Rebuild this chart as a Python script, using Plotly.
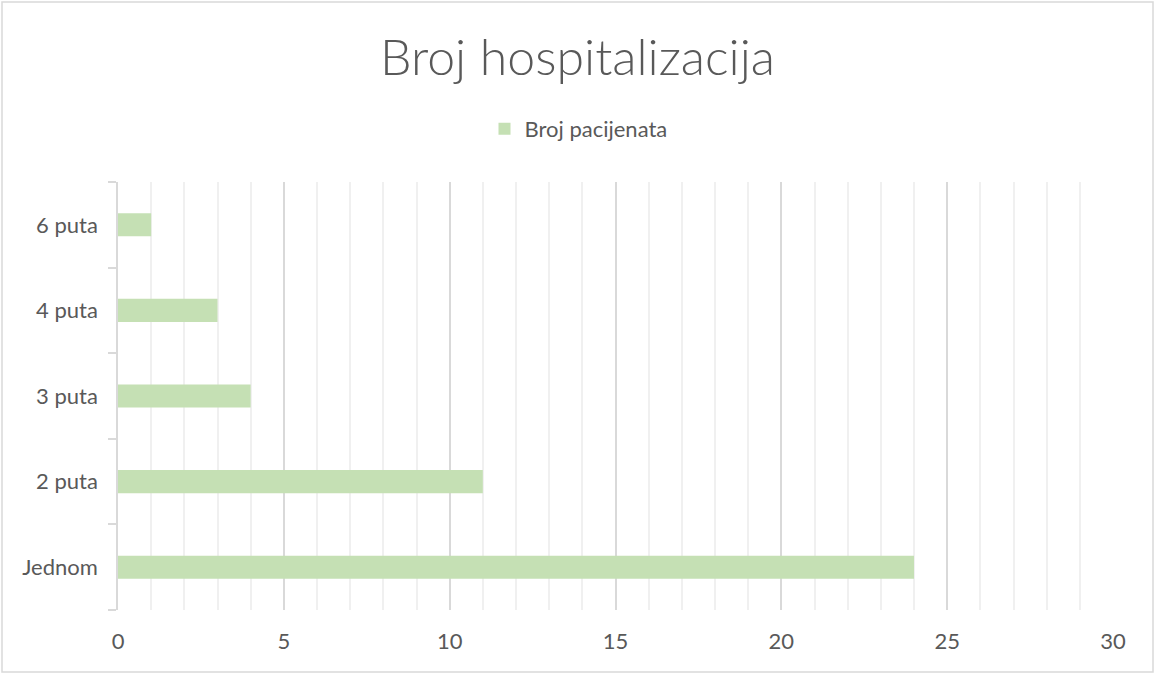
import plotly.graph_objects as go

categories = ['Jednom', '2 puta', '3 puta', '4 puta', '6 puta']
patients = [24, 11, 4, 3, 1]
x_ticks = [0, 5, 10, 15, 20, 25, 30]

W, H = 1155, 675
ml, mr, mt, mb = 118, 42, 182, 65
pw, ph = W - ml - mr, H - mt - mb

fig = go.Figure(go.Bar(
    y=categories, x=patients, orientation='h',
    name='Broj pacijenata',
    marker=dict(color='#c5e0b4', line=dict(width=0)),
))

fig.update_layout(
    width=W, height=H,
    margin=dict(l=ml, r=mr, t=mt, b=mb),
    paper_bgcolor='white', plot_bgcolor='white',
    font=dict(family='Lato, Open Sans, sans-serif', color='#595959', size=22),
    title=dict(text='Broj hospitalizacija', x=0.5, xanchor='center',
               y=1 - 57 / H, yanchor='middle',
               font=dict(size=50, color='#595959', weight=300)),
    showlegend=True,
    legend=dict(orientation='h', x=0.5 - 37 / pw, xanchor='center', y=(610 - 129) / ph,
                yanchor='middle', yref='paper', font=dict(size=22),
                itemwidth=30),
    bargap=0.73,
    xaxis=dict(range=[0, 30], tickvals=x_ticks, showgrid=True, gridcolor='#d9d9d9',
               gridwidth=1.5, zeroline=False, showline=False, ticks='',
               minor=dict(dtick=1, showgrid=True, gridcolor='#f0f0f0', gridwidth=1.5),
               ticklabelstandoff=16, automargin=False),
    yaxis=dict(showline=True, linecolor='#d9d9d9', linewidth=1.5, ticks='outside',
               tickson='boundaries', ticklen=8, tickcolor='#d9d9d9', tickwidth=1.5,
               showgrid=False, ticklabelstandoff=14, automargin=False),
)

fig.add_shape(type='rect', xref='paper', yref='paper',
              x0=(2 - ml) / pw, x1=(W - 2 - ml) / pw,
              y0=-(H - 3 - mt - ph) / ph, y1=(H - mb - 2) / ph,
              line=dict(color='#d9d9d9', width=1.5), fillcolor='rgba(0,0,0,0)',
              layer='below')

fig.write_html("out.html", config={'displayModeBar': False},
               post_script="document.body.style.margin='0';")
